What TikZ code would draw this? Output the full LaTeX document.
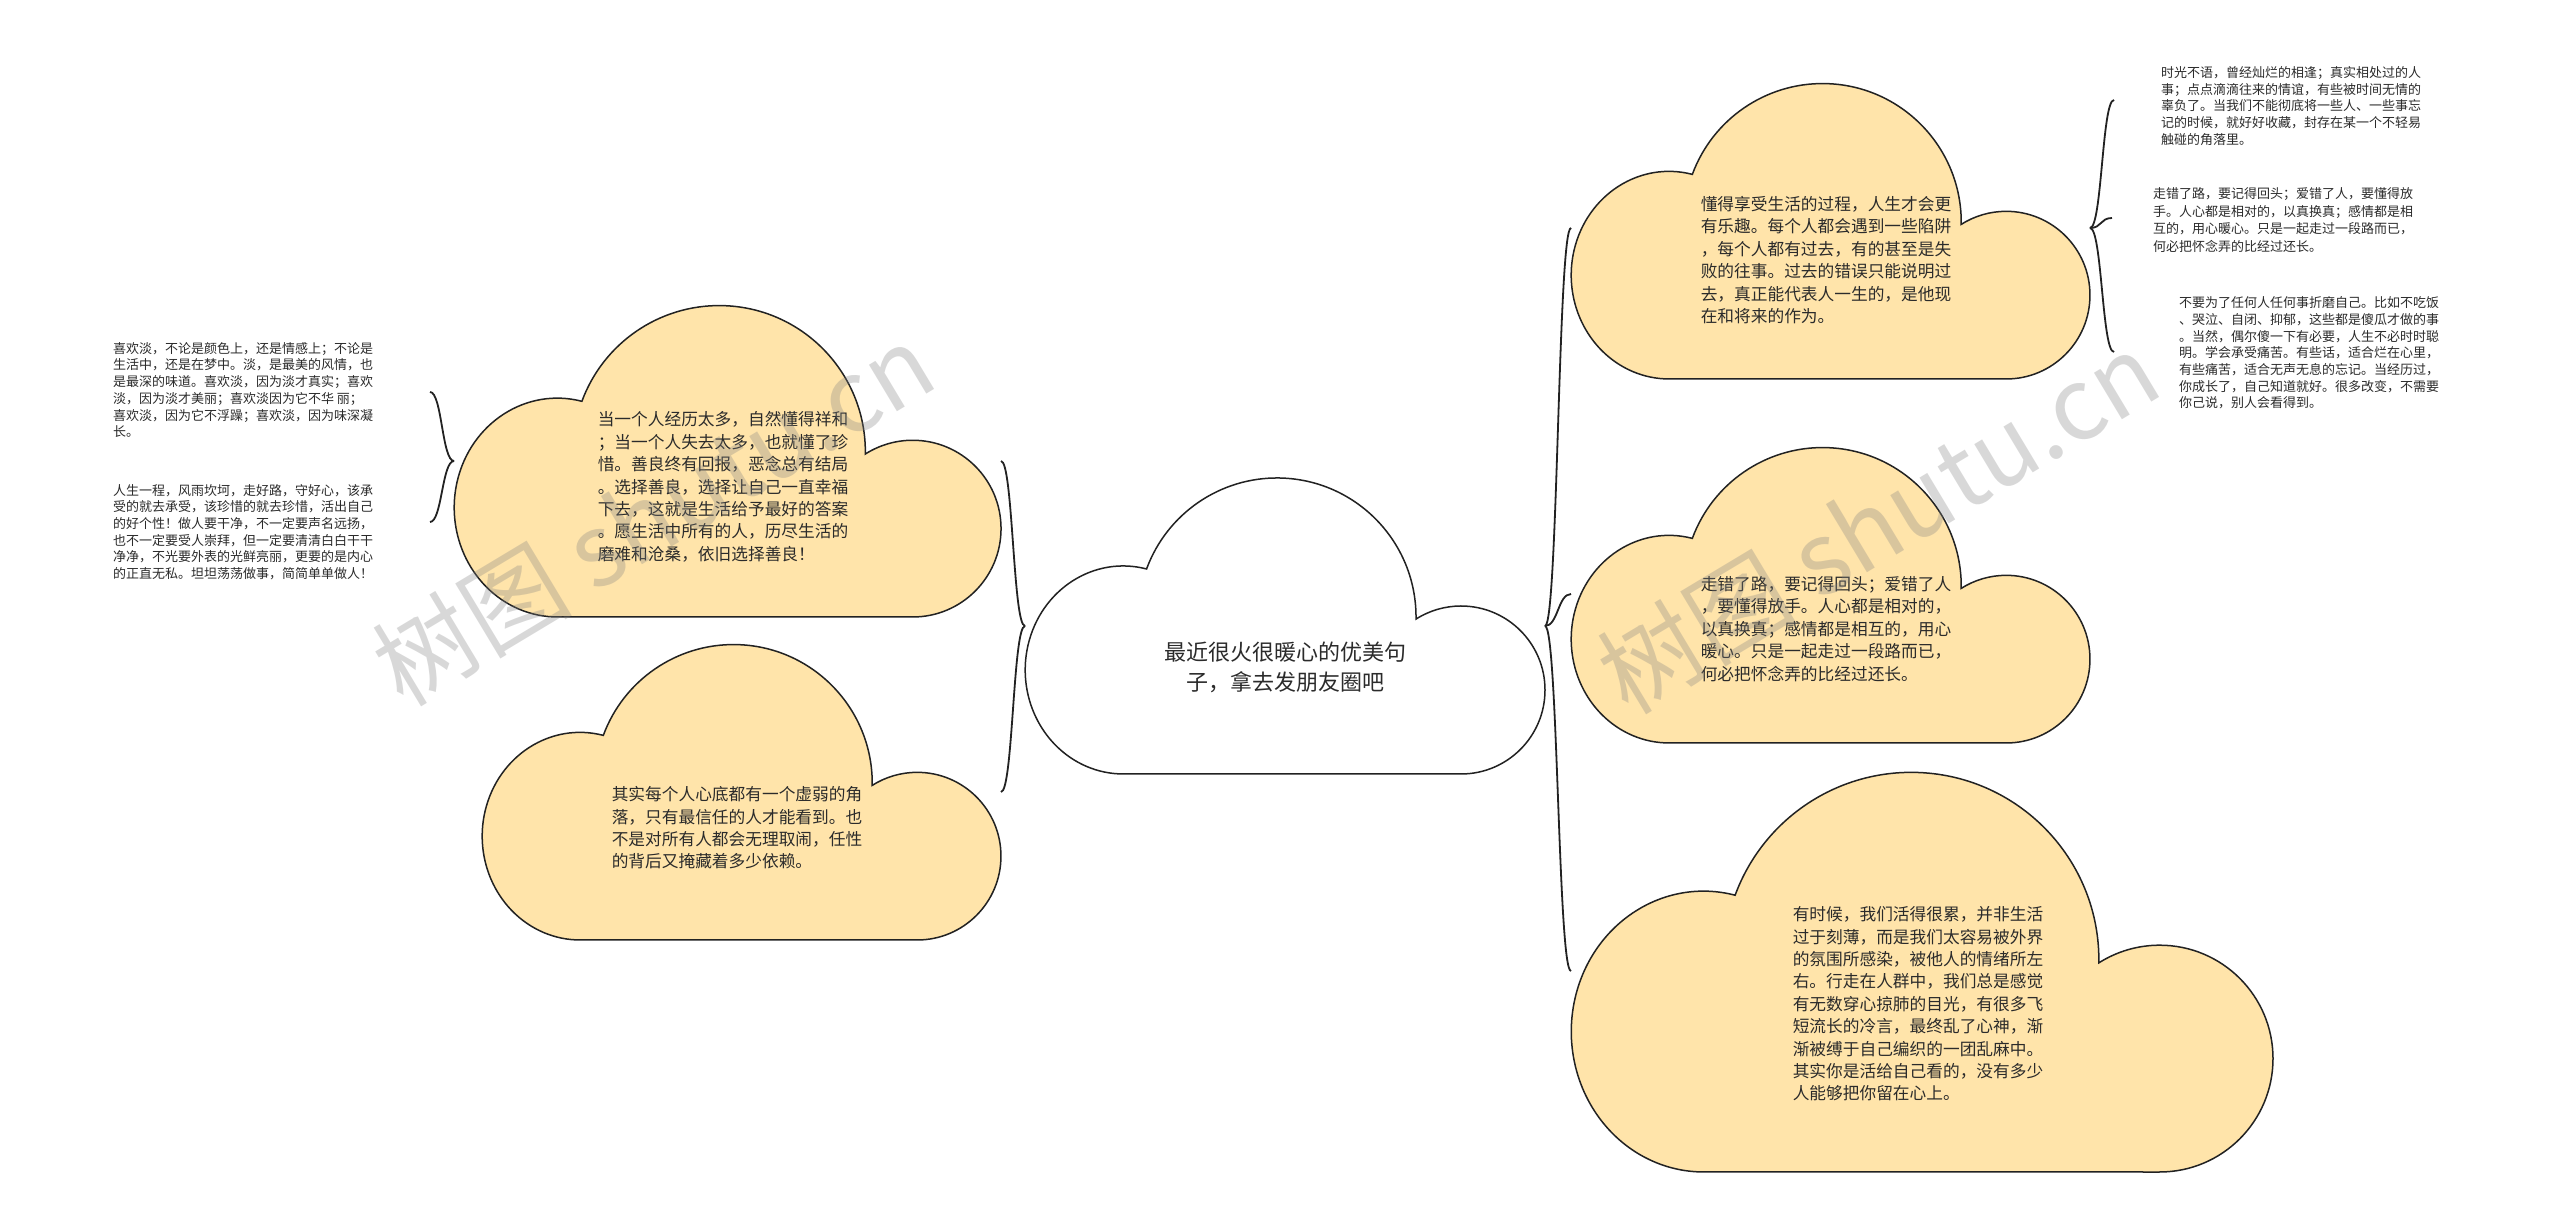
\documentclass[tikz,border=0pt]{standalone}
\usepackage{fontspec}
\setmainfont{Noto Sans CJK SC}
\definecolor{cloudfill}{HTML}{FFE4AA}
\definecolor{ink}{HTML}{2B2B2B}
\definecolor{edgec}{HTML}{222222}
\newcommand\drawcloud[4]{%
  \begin{scope}[shift={(#1,#2)},scale=#3]
    \draw[cloudline,fill=#4] (436,0) arc[start angle=-90,end angle=122.4,radius=84]
      arc[start angle=-0.87,end angle=159.8,radius=139]
      arc[start angle=76.2,end angle=270,x radius=98,y radius=104] -- cycle;
  \end{scope}}
\begin{document}
\begin{tikzpicture}[x=0.5pt,y=0.5pt,
  cloudline/.style={draw=edgec,line width=0.75pt},
  link/.style={draw=edgec,line width=0.9pt},
  bigtext/.style={font=\fontsize{8.35pt}{11.2pt}\selectfont,text=ink,align=left,inner sep=0pt},
  smalltext/.style={font=\fontsize{6.5pt}{8.35pt}\selectfont,text=ink,align=left,inner sep=0pt},
  roottext/.style={font=\fontsize{11pt}{15pt}\selectfont,text=ink,align=center,inner sep=0pt},
  watermark/.style={font=\fontsize{50pt}{50pt}\selectfont,text=gray,opacity=0.3,inner sep=0pt}]
\useasboundingbox[fill=white] (0,0) rectangle (2560,1227);
% clouds
\drawcloud{1025}{453}{1.0}{white}
\drawcloud{454}{610}{1.052}{cloudfill}
\drawcloud{482}{287}{0.998}{cloudfill}
\drawcloud{1571}{848}{0.998}{cloudfill}
\drawcloud{1571}{484}{0.998}{cloudfill}
\drawcloud{1571}{55}{1.35}{cloudfill}
% texts
\node[roottext] (root) at (1285,560) {最近很火很暖心的优美句\\子，拿去发朋友圈吧};
\node[bigtext] (tl) at (723,740) {当一个人经历太多，自然懂得祥和\\；当一个人失去太多，也就懂了珍\\惜。善良终有回报，恶念总有结局\\。选择善良，选择让自己一直幸福\\下去，这就是生活给予最好的答案\\。愿生活中所有的人，历尽生活的\\磨难和沧桑，依旧选择善良！};
\node[bigtext] (bl) at (737,399) {其实每个人心底都有一个虚弱的角\\落，只有最信任的人才能看到。也\\不是对所有人都会无理取闹，任性\\的背后又掩藏着多少依赖。};
\node[bigtext] (tr) at (1826,967) {懂得享受生活的过程，人生才会更\\有乐趣。每个人都会遇到一些陷阱\\，每个人都有过去，有的甚至是失\\败的往事。过去的错误只能说明过\\去，真正能代表人一生的，是他现\\在和将来的作为。};
\node[bigtext] (mr) at (1826,598) {走错了路，要记得回头；爱错了人\\，要懂得放手。人心都是相对的，\\以真换真；感情都是相互的，用心\\暖心。只是一起走过一段路而已，\\何必把怀念弄的比经过还长。};
\node[bigtext] (br) at (1918,223) {有时候，我们活得很累，并非生活\\过于刻薄，而是我们太容易被外界\\的氛围所感染，被他人的情绪所左\\右。行走在人群中，我们总是感觉\\有无数穿心掠肺的目光，有很多飞\\短流长的冷言，最终乱了心神，渐\\渐被缚于自己编织的一团乱麻中。\\其实你是活给自己看的，没有多少\\人能够把你留在心上。};
\node[smalltext] (lt1) at (243,837) {喜欢淡，不论是颜色上，还是情感上；不论是\\生活中，还是在梦中。淡，是最美的风情，也\\是最深的味道。喜欢淡，因为淡才真实；喜欢\\淡，因为淡才美丽；喜欢淡因为它不华 丽；\\喜欢淡，因为它不浮躁；喜欢淡，因为味深凝\\长。};
\node[smalltext] (lt2) at (243,695) {人生一程，风雨坎坷，走好路，守好心，该承\\受的就去承受，该珍惜的就去珍惜，活出自己\\的好个性！做人要干净，不一定要声名远扬，\\也不一定要受人崇拜，但一定要清清白白干干\\净净，不光要外表的光鲜亮丽，更要的是内心\\的正直无私。坦坦荡荡做事，简简单单做人！};
\node[smalltext] (rt1) at (2291,1121) {时光不语，曾经灿烂的相逢；真实相处过的人\\事；点点滴滴往来的情谊，有些被时间无情的\\辜负了。当我们不能彻底将一些人、一些事忘\\记的时候，就好好收藏，封存在某一个不轻易\\触碰的角落里。};
\node[smalltext,font=\fontsize{6.5pt}{8.9pt}\selectfont] (rt2) at (2283,1007) {走错了路，要记得回头；爱错了人，要懂得放\\手。人心都是相对的，以真换真；感情都是相\\互的，用心暖心。只是一起走过一段路而已，\\何必把怀念弄的比经过还长。};
\node[smalltext] (rt3) at (2309,874) {不要为了任何人任何事折磨自己。比如不吃饭\\、哭泣、自闭、抑郁，这些都是傻瓜才做的事\\。当然，偶尔傻一下有必要，人生不必时时聪\\明。学会承受痛苦。有些话，适合烂在心里，\\有些痛苦，适合无声无息的忘记。当经历过，\\你成长了，自己知道就好。很多改变，不需要\\你己说，别人会看得到。};
% connection points
\coordinate (cL) at (1025,601);
\coordinate (cR) at (1545,601);
\coordinate (tlR) at (1001,766);
\coordinate (tlL) at (454,766);
\coordinate (blR) at (1001,435);
\coordinate (trL) at (1571,999);
\coordinate (trR) at (2090,999);
\coordinate (mrL) at (1571,633);
\coordinate (brL) at (1571,256);
\coordinate (lt1R) at (430,835);
\coordinate (lt2R) at (430,705);
\coordinate (rt1L) at (2114,1127);
\coordinate (rt2L) at (2112,1009);
\coordinate (rt3L) at (2114,875);
% connectors
\draw[link] (cL) .. controls +(-12,0) and +(12,0) .. (tlR);
\draw[link] (cL) .. controls +(-12,0) and +(12,0) .. (blR);
\draw[link] (cR) .. controls +(13,0) and +(-13,0) .. (trL);
\draw[link] (cR) .. controls +(13,0) and +(-13,0) .. (mrL);
\draw[link] (cR) .. controls +(13,0) and +(-13,0) .. (brL);
\draw[link] (tlL) .. controls +(-12,0) and +(12,0) .. (lt1R);
\draw[link] (tlL) .. controls +(-12,0) and +(12,0) .. (lt2R);
\draw[link] (trR) .. controls +(12,0) and +(-12,0) .. (rt1L);
\draw[link] (trR) .. controls +(12,0) and +(-12,0) .. (rt2L);
\draw[link] (trR) .. controls +(12,0) and +(-12,0) .. (rt3L);
% watermarks
\node[watermark,rotate=31] (wm1) at (653,713) {树图 shutu.cn};
\node[watermark,rotate=31] (wm2) at (1878,705) {树图 shutu.cn};
\end{tikzpicture}
\end{document}
